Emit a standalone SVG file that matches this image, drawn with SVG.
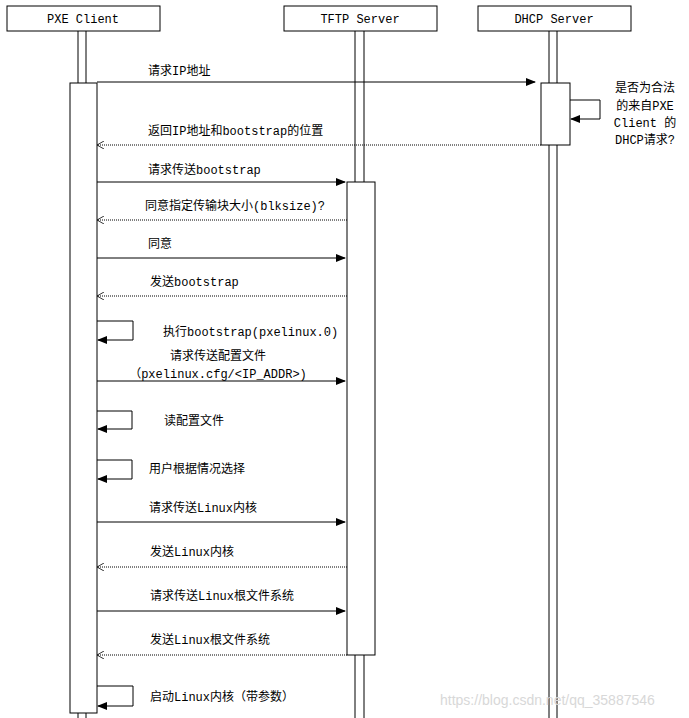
<svg xmlns="http://www.w3.org/2000/svg" width="689" height="718" viewBox="0 0 689 718">
<style>
text{font-family:"Liberation Mono","Noto Sans CJK SC",monospace;font-size:12px;fill:#000}
.box{fill:#fff;stroke:#000;stroke-width:1}
.ll{stroke:#000;stroke-width:1}
.sol{stroke:#000;stroke-width:1;fill:none}
.dot{stroke:#000;stroke-width:1;stroke-dasharray:1 1;fill:none}
</style>
<defs>
<marker id="fa" markerWidth="10" markerHeight="8" refX="9" refY="4" orient="auto" markerUnits="userSpaceOnUse"><path d="M0,0 L10,4 L0,8 z" fill="#000"/></marker>
<marker id="oa" markerWidth="8" markerHeight="8" refX="7" refY="4" orient="auto" markerUnits="userSpaceOnUse"><path d="M0,0 L7,4 L0,8" fill="none" stroke="#000" stroke-width="0.8"/></marker>
</defs>
<rect width="689" height="718" fill="#fff"/>
<g id="lifelines">
<line class="ll" x1="78" y1="31" x2="78" y2="718"/><line class="ll" x1="86" y1="31" x2="86" y2="718"/>
<line class="ll" x1="355" y1="31" x2="355" y2="718"/><line class="ll" x1="364" y1="31" x2="364" y2="718"/>
<line class="ll" x1="549" y1="31" x2="549" y2="718"/><line class="ll" x1="557" y1="31" x2="557" y2="718"/>
</g>
<g id="pxe"><rect class="box" x="7" y="6" width="153" height="25"/><text x="83" y="23" text-anchor="middle">PXE Client</text></g>
<g id="tftp"><rect class="box" x="284" y="6" width="153" height="25"/><text x="360" y="23" text-anchor="middle">TFTP Server</text></g>
<g id="dhcp"><rect class="box" x="478" y="6" width="153" height="25"/><text x="554" y="23" text-anchor="middle">DHCP Server</text></g>
<g id="activations">
<rect class="box" x="70" y="83" width="27" height="630"/>
<rect class="box" x="347" y="182" width="28" height="473"/>
<rect class="box" x="541" y="83" width="29" height="62"/>
</g>
<g id="connectors">
<line class="sol" x1="97" y1="82" x2="535" y2="82" marker-end="url(#fa)"/>
<path class="sol" d="M570,100 H600 V119 H571" marker-end="url(#fa)"/>
<line class="dot" x1="541" y1="145" x2="97" y2="145" marker-end="url(#oa)"/>
<line class="sol" x1="97" y1="182" x2="345" y2="182" marker-end="url(#fa)"/>
<line class="dot" x1="347" y1="220" x2="97" y2="220" marker-end="url(#oa)"/>
<line class="sol" x1="97" y1="258" x2="345" y2="258" marker-end="url(#fa)"/>
<line class="dot" x1="347" y1="296" x2="97" y2="296" marker-end="url(#oa)"/>
<path class="sol" d="M97,321 H133 V340 H98" marker-end="url(#fa)"/>
<line class="sol" x1="97" y1="381" x2="345" y2="381" marker-end="url(#fa)"/>
<path class="sol" d="M97,411 H132 V429 H98" marker-end="url(#fa)"/>
<path class="sol" d="M97,460 H132 V479 H98" marker-end="url(#fa)"/>
<line class="sol" x1="97" y1="522" x2="345" y2="522" marker-end="url(#fa)"/>
<line class="dot" x1="347" y1="567" x2="97" y2="567" marker-end="url(#oa)"/>
<line class="sol" x1="97" y1="611" x2="345" y2="611" marker-end="url(#fa)"/>
<line class="dot" x1="347" y1="655" x2="97" y2="655" marker-end="url(#oa)"/>
<path class="sol" d="M97,686 H133 V706 H98" marker-end="url(#fa)"/>
</g>
<g id="labels">
<text x="148" y="75">请求IP地址</text>
<text x="645" y="92" text-anchor="middle">是否为合法</text>
<text x="645" y="110" text-anchor="middle">的来自PXE</text>
<text x="645" y="127" text-anchor="middle">Client 的</text>
<text x="645" y="144" text-anchor="middle">DHCP请求?</text>
<text x="148" y="135">返回IP地址和bootstrap的位置</text>
<text x="148" y="174">请求传送bootstrap</text>
<text x="145" y="210">同意指定传输块大小(blksize)?</text>
<text x="148" y="248">同意</text>
<text x="150" y="286">发送bootstrap</text>
<text x="163" y="336">执行bootstrap(pxelinux.0)</text>
<text x="218" y="360" text-anchor="middle">请求传送配置文件</text>
<text x="218" y="378" text-anchor="middle">（pxelinux.cfg/&lt;IP_ADDR&gt;)</text>
<text x="164" y="425">读配置文件</text>
<text x="149" y="473">用户根据情况选择</text>
<text x="149" y="512">请求传送Linux内核</text>
<text x="150" y="556">发送Linux内核</text>
<text x="150" y="600">请求传送Linux根文件系统</text>
<text x="150" y="644">发送Linux根文件系统</text>
<text x="150" y="701">启动Linux内核（带参数）</text>
<text x="440" y="705" style="font-family:'Liberation Sans',sans-serif;font-size:14px;fill:#d8d8d8">https://blog.csdn.net/qq_35887546</text>
</g>
</svg>
